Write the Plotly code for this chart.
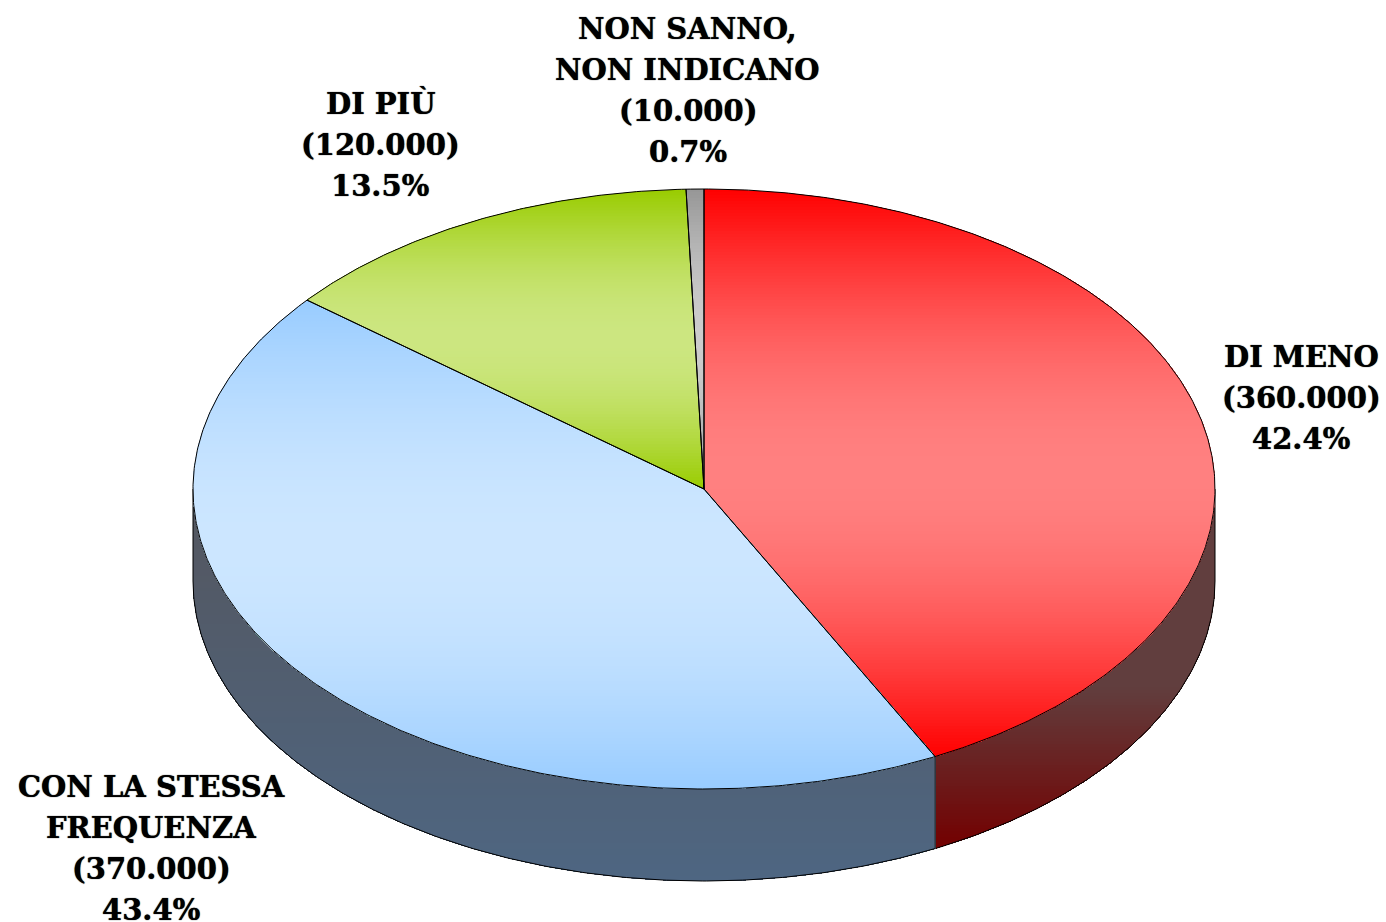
import math
import plotly.graph_objects as go

# ---- data ----
categories = ["DI MENO", "CON LA STESSA FREQUENZA", "DI PIÙ", "NON SANNO, NON INDICANO"]
counts = ["360.000", "370.000", "120.000", "10.000"]
percent_labels = ["42.4%", "43.4%", "13.5%", "0.7%"]
drawn_share = [42.53, 43.31, 13.6, 0.56]
label_lines = [
    ["DI MENO"],
    ["CON LA STESSA", "FREQUENZA"],
    ["DI PIÙ"],
    ["NON SANNO,", "NON INDICANO"],
]

# ---- styles / geometry ----
edge_col = [(255, 0, 0), (153, 204, 255), (153, 204, 0), (150, 150, 150)]
mid_col = [(255, 128, 128), (204, 230, 255), (204, 230, 128), (204, 204, 204)]
side_top = [(97, 62, 62), (84, 86, 94)]
side_bot = [(115, 0, 0), (78, 102, 130)]
side_hold = [0.55, 0.0]
label_pos = [(1301, 356.5), (151, 786.5), (380, 103.5), (687.5, 28.5)]
CX, CY, RX, RY, DEPTH = 704.0, 489.0, 511.0, 300.0, 92.0
LINE_H = 41.3
FONT = dict(family="DejaVu Serif", size=29, color="black", weight="bold",
            shadow="0 0 1px black")
STEP = 3.0


def pt(angle_deg, dy=0.0):
    a = math.radians(angle_deg)
    return CX + RX * math.sin(a), CY - RY * math.cos(a) + dy


def arc(a0, a1, dy=0.0):
    n = max(2, int(abs(a1 - a0) * 2))
    return [pt(a0 + (a1 - a0) * i / n, dy) for i in range(n + 1)]


def clip_below(poly, yc):
    """Part of a closed polygon with y >= yc (pixels downward)."""
    out = []
    for i, (x0, y0) in enumerate(poly):
        x1, y1 = poly[(i + 1) % len(poly)]
        if y0 >= yc:
            out.append((x0, y0))
        if (y0 >= yc) != (y1 >= yc):
            t = (yc - y0) / (y1 - y0)
            out.append((x0 + t * (x1 - x0), yc))
    return out


def rgb(c):
    return "rgb(%d,%d,%d)" % tuple(round(v) for v in c)


def mix(a, b, t):
    return tuple(a[i] + (b[i] - a[i]) * t for i in range(3))


def add_poly(fig, poly, fill=None, line=None):
    xs = [p[0] for p in poly]
    ys = [p[1] for p in poly]
    if fill:
        xs, ys = xs + xs[:1], ys + ys[:1]
    fig.add_trace(go.Scatter(
        x=xs, y=ys, mode="lines", hoverinfo="skip", showlegend=False,
        fill="toself" if fill else "none", fillcolor=fill,
        line=dict(width=1 if line else 0, color=line or "rgba(0,0,0,0)"),
    ))


def add_gradient(fig, poly, colour_at):
    """Stacked bands, each covering everything below it, so no seams show."""
    y0 = min(p[1] for p in poly)
    y1 = max(p[1] for p in poly)
    y = y0
    while y < y1:
        t = (y + STEP / 2 - y0) / (y1 - y0)
        add_poly(fig, clip_below(poly, y), fill=rgb(colour_at(min(t, 1.0))))
        y += STEP


fig = go.Figure()

# slice angles from the shares, clockwise from 12 o'clock
bounds = [0.0]
for p in drawn_share:
    bounds.append(bounds[-1] + p * 3.6)
bounds[-1] = 360.0

# visible side walls: red from 3 o'clock to its end, blue from there to 9 o'clock
walls = [(90.0, bounds[1], 0), (bounds[1], 270.0, 1)]
for a0, a1, k in walls:
    poly = arc(a0, a1) + arc(a1, a0, DEPTH)
    add_gradient(
        fig, poly,
        lambda t, k=k: mix(side_top[k], side_bot[k],
                           max(0.0, (t - side_hold[k]) / (1 - side_hold[k]))),
    )
    add_poly(fig, arc(a0, a1, DEPTH), line="black")
# vertical edges of the wall
add_poly(fig, [pt(bounds[1]), pt(bounds[1], DEPTH)], line="#222222")
add_poly(fig, [pt(90.0), pt(90.0, DEPTH)], line="black")
add_poly(fig, [pt(270.0), pt(270.0, DEPTH)], line="black")

# top face: edge colour at the slice's top and bottom, light in its middle
for i in range(len(drawn_share)):
    a0, a1 = bounds[i], bounds[i + 1]
    poly = [(CX, CY)] + arc(a0, a1)
    e, m = edge_col[i], mid_col[i]
    add_gradient(
        fig, poly,
        lambda t, e=e, m=m: mix(e, m, math.sin((1 - abs(2 * t - 1)) * math.pi / 2)),
    )
for i in range(len(drawn_share)):
    a0, a1 = bounds[i], bounds[i + 1]
    poly = [(CX, CY)] + arc(a0, a1) + [(CX, CY)]
    add_poly(fig, poly, line="black")

# labels, one annotation per line
annotations = []
for i, (lx, ly) in enumerate(label_pos):
    lines = label_lines[i] + ["(%s)" % counts[i], percent_labels[i]]
    for j, text in enumerate(lines):
        annotations.append(dict(
            x=lx, y=ly + j * LINE_H, text=text, showarrow=False,
            xanchor="center", yanchor="middle", font=FONT,
        ))

fig.update_layout(
    width=1386, height=922, margin=dict(l=0, r=0, t=0, b=0),
    paper_bgcolor="white", plot_bgcolor="white", showlegend=False,
    xaxis=dict(range=[0, 1386], visible=False, fixedrange=True),
    yaxis=dict(range=[922, 0], visible=False, fixedrange=True),
    annotations=annotations,
)
fig.write_html(
    "out.html", config=dict(displayModeBar=False),
    post_script="document.body.style.margin='0';document.body.style.overflow='hidden';",
)
